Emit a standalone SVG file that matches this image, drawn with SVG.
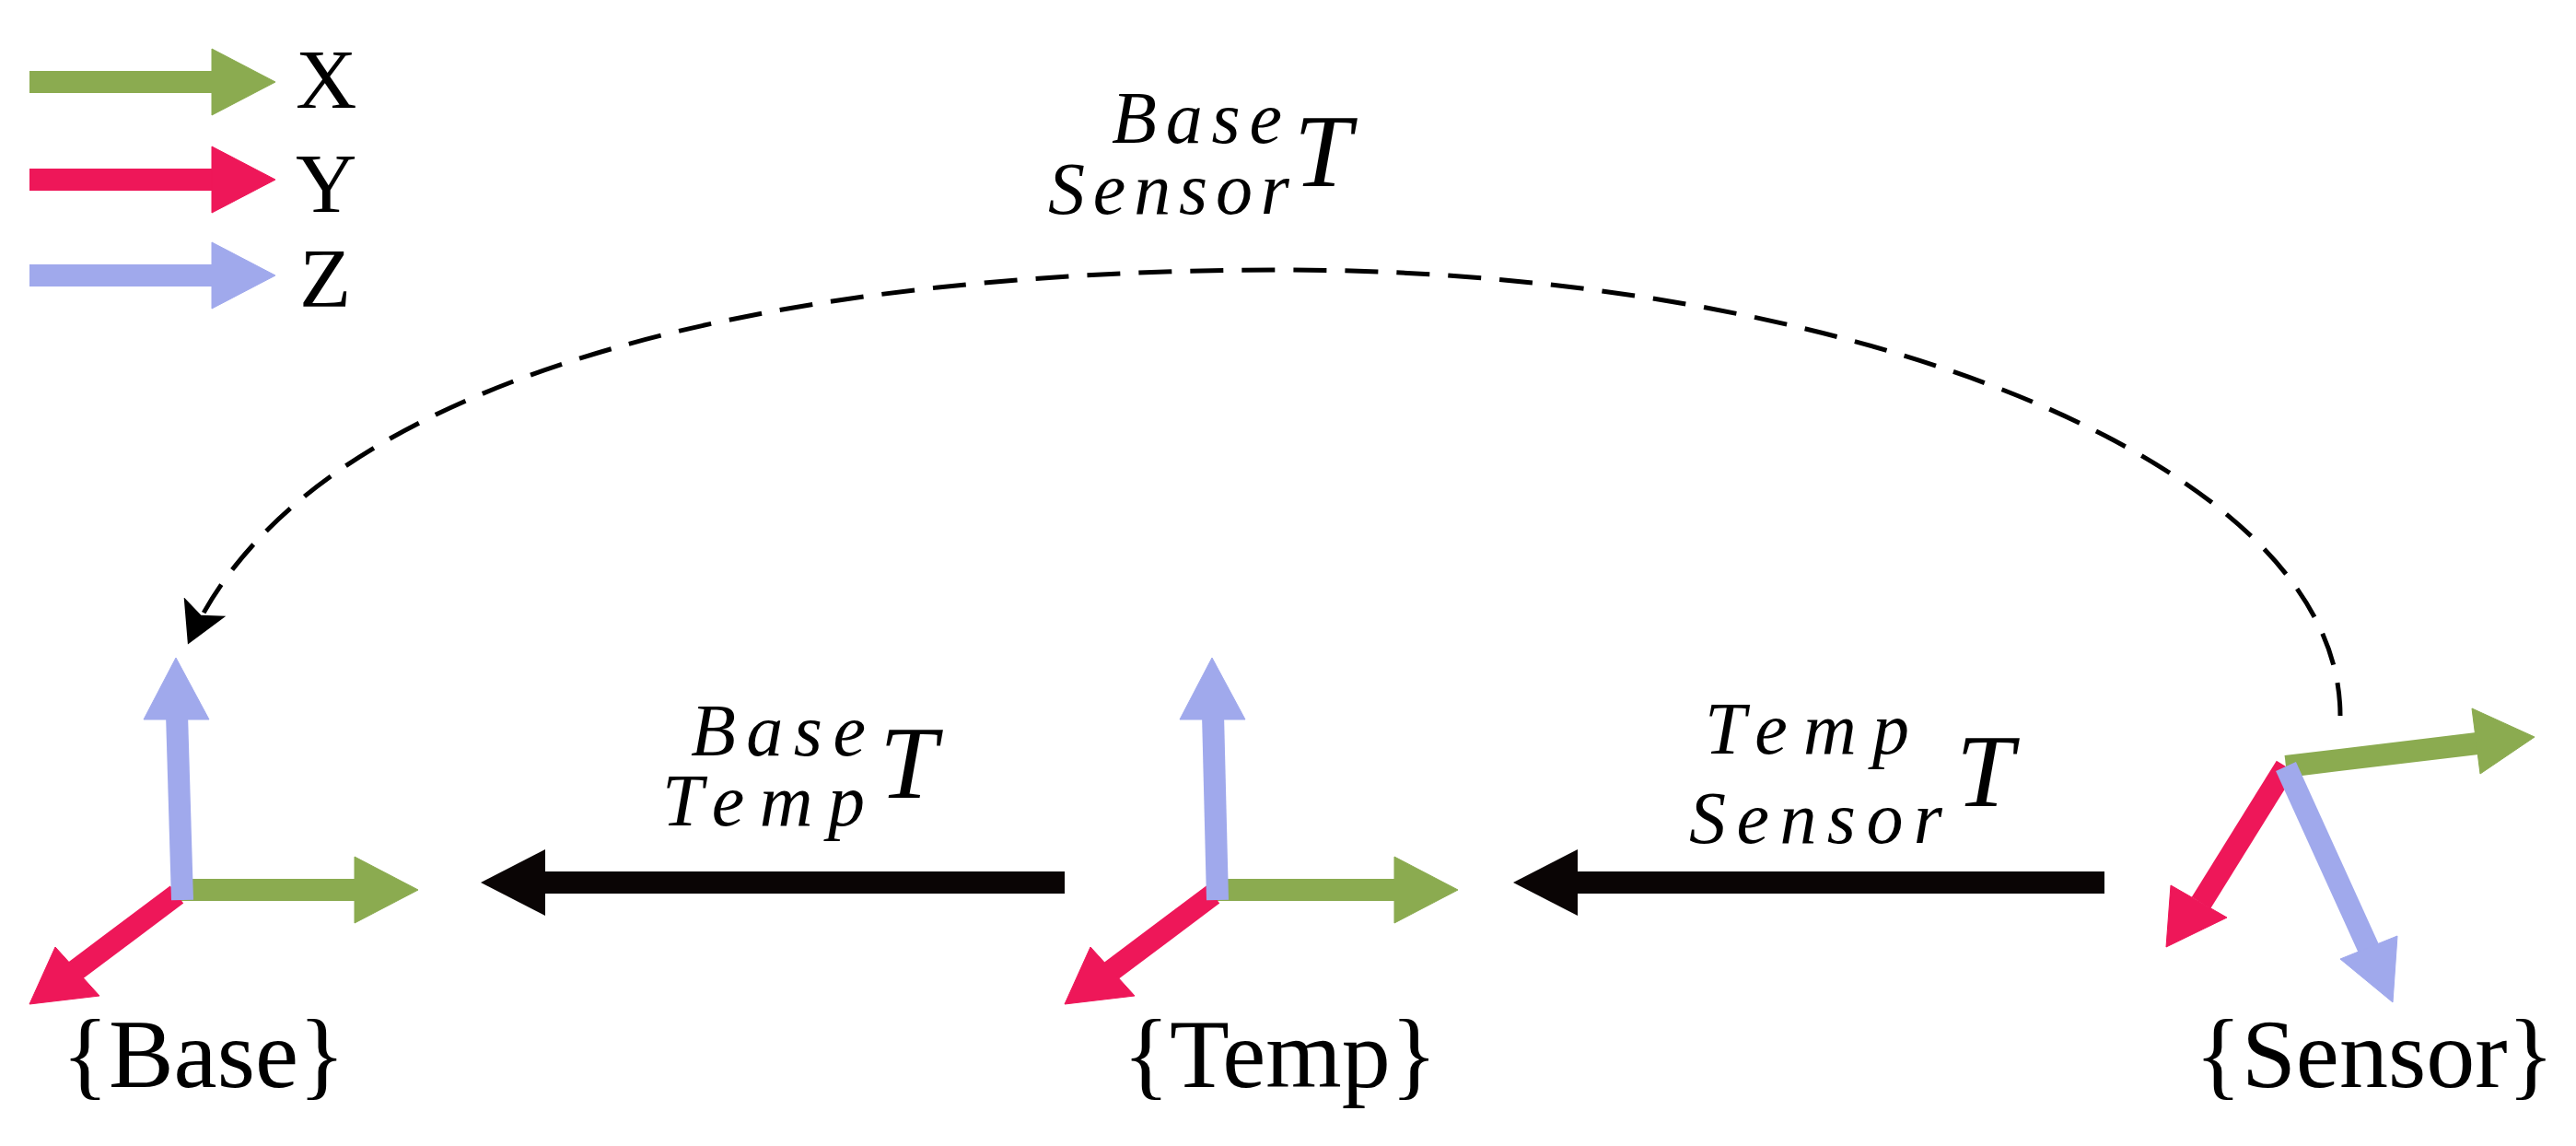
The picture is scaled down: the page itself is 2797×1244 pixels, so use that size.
<svg xmlns="http://www.w3.org/2000/svg" width="2797" height="1244" viewBox="0 0 2797 1244">
<style>
.x{stroke:#8bab50;fill:#8bab50}
.y{stroke:#ee1759;fill:#ee1759}
.z{stroke:#a0a9ec;fill:#a0a9ec}
.ax{stroke-width:24;fill:none}
.t{font-family:"Liberation Serif",serif;fill:#000}
.m{font-family:"Liberation Serif",serif;font-style:italic;fill:#000}
</style>
<defs>
<marker id="dh" markerWidth="10" markerHeight="10" refX="8" refY="5" orient="auto" markerUnits="strokeWidth"><path d="M0,0 L9,5 L0,10 L2,5 Z" fill="#000"/></marker>
</defs>
<g id="legend">
<line class="x ax" x1="32" y1="89" x2="232" y2="89"/><path class="x" d="M299,89 L230,53 L230,125 Z"/>
<line class="y ax" x1="32" y1="195" x2="232" y2="195"/><path class="y" d="M299,195 L230,159 L230,231 Z"/>
<line class="z ax" x1="32" y1="299" x2="232" y2="299"/><path class="z" d="M299,299 L230,263 L230,335 Z"/>
<text class="t" x="321" y="117" font-size="92">X</text>
<text class="t" x="321" y="230" font-size="92">Y</text>
<text class="t" x="325" y="333" font-size="92">Z</text>
</g>
<g id="base">
<line class="x ax" x1="192" y1="966" x2="390" y2="966"/><path class="x" d="M454,966 L385,930 L385,1002 Z"/>
<line class="y ax" x1="192" y1="971" x2="80" y2="1055"/><path class="y" d="M32,1090 L60,1028 L108,1081 Z"/>
<line class="z ax" x1="198" y1="977" x2="192" y2="775"/><path class="z" d="M191,714 L156,781 L227,781 Z"/>
<text class="t" x="67" y="1180" font-size="106">{Base}</text>
</g>
<g id="temp">
<line class="x ax" x1="1317" y1="966" x2="1520" y2="966"/><path class="x" d="M1583,966 L1514,930 L1514,1002 Z"/>
<line class="y ax" x1="1317" y1="971" x2="1205" y2="1055"/><path class="y" d="M1156,1090 L1184,1028 L1232,1081 Z"/>
<line class="z ax" x1="1322" y1="977" x2="1317" y2="775"/><path class="z" d="M1316,714 L1281,781 L1352,781 Z"/>
<text class="t" x="1219" y="1180" font-size="106">{Temp}</text>
</g>
<g id="sensor">
<line class="x ax" x1="2482" y1="832" x2="2690" y2="807"/><path class="x" d="M2752,800 L2684,769 L2693,840 Z"/>
<line class="y ax" x1="2482" y1="832" x2="2390" y2="980"/><path class="y" d="M2352,1028 L2357,961 L2418,996 Z"/>
<line class="z ax" x1="2482" y1="832" x2="2572" y2="1030"/><path class="z" d="M2598,1088 L2541,1041 L2603,1016 Z"/>
<text class="t" x="2383" y="1180" font-size="106">{Sensor}</text>
</g>
<g id="connectors">
<line x1="1156" y1="958" x2="585" y2="958" stroke="#0a0505" stroke-width="24"/><path d="M522,958 L592,922 L592,994 Z" fill="#0a0505"/>
<line x1="2285" y1="958" x2="1705" y2="958" stroke="#0a0505" stroke-width="24"/><path d="M1643,958 L1713,922 L1713,994 Z" fill="#0a0505"/>
<path d="M2541,777 C2541,500 2000,293 1393,293 C800,293 330,420 206,695" fill="none" stroke="#000" stroke-width="5" stroke-dasharray="36,20" marker-end="url(#dh)"/>
<text class="m" x="1207" y="155" font-size="80" textLength="185" lengthAdjust="spacing">Base</text>
<text class="m" x="1138" y="232" font-size="80" textLength="262" lengthAdjust="spacing">Sensor</text>
<text class="m" x="1405" y="202" font-size="112">T</text>
<text class="m" x="750" y="820" font-size="80" textLength="190" lengthAdjust="spacing">Base</text>
<text class="m" x="719" y="896" font-size="80" textLength="220" lengthAdjust="spacing">Temp</text>
<text class="m" x="955" y="866" font-size="112">T</text>
<text class="m" x="1851" y="818" font-size="80" textLength="222" lengthAdjust="spacing">Temp</text>
<text class="m" x="1834" y="915" font-size="80" textLength="275" lengthAdjust="spacing">Sensor</text>
<text class="m" x="2124" y="875" font-size="112">T</text>
</g>
</svg>
